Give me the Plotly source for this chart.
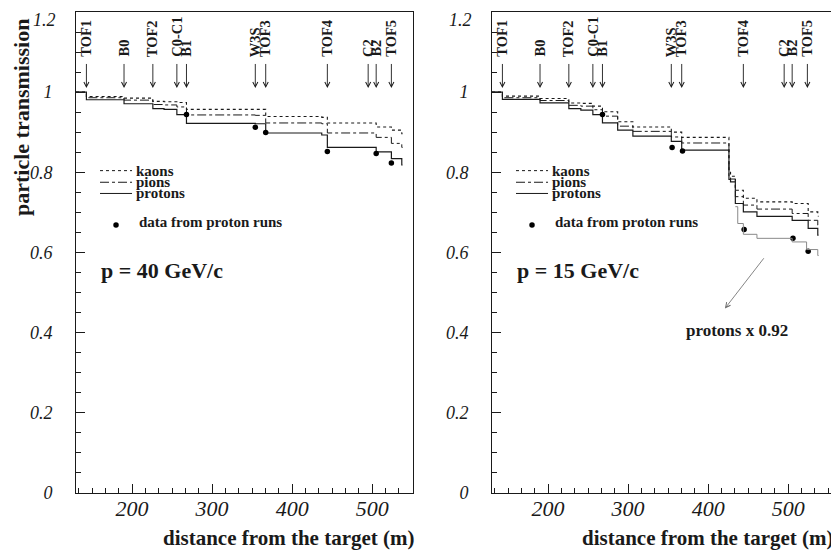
import plotly.graph_objects as go

# ---------------- data ----------------
# element positions along the beam line (m)
elem_names = ["TOF1", "B0", "TOF2", "C0-C1", "B1", "W3S", "TOF3", "TOF4", "C2", "B2", "TOF5"]
elem_pos = [143, 190, 226, 256, 268, 354, 367, 444, 495, 505, 524]

# p = 40 GeV/c  (step edges, value after each edge)
x40 = [130, 143, 190, 226, 240, 256, 268, 354, 367, 437, 444, 505, 524, 537, 538]
kaons40 = [1.0, 0.989, 0.985, 0.977, 0.976, 0.974, 0.957, 0.957, 0.939, 0.937, 0.923, 0.913, 0.905, 0.896, 0.896]
pions40 = [1.0, 0.986, 0.980, 0.969, 0.968, 0.963, 0.943, 0.942, 0.923, 0.921, 0.898, 0.887, 0.872, 0.862, 0.862]
protons40 = [1.0, 0.981, 0.971, 0.959, 0.957, 0.944, 0.922, 0.921, 0.898, 0.893, 0.862, 0.851, 0.834, 0.818, 0.818]
data40_x = [268, 354, 367, 444, 505, 524]
data40_y = [0.944, 0.912, 0.899, 0.852, 0.847, 0.823]

# p = 15 GeV/c
x15 = [130, 143, 190, 226, 241, 256, 268, 287, 306, 354, 367, 426, 428, 434, 444, 461, 505, 525, 537, 538]
kaons15 = [1.0, 0.990, 0.984, 0.973, 0.972, 0.965, 0.951, 0.926, 0.913, 0.900, 0.887, 0.800, 0.790, 0.755, 0.735, 0.726, 0.722, 0.701, 0.690, 0.690]
pions15 = [1.0, 0.986, 0.979, 0.967, 0.965, 0.956, 0.940, 0.915, 0.902, 0.888, 0.873, 0.790, 0.783, 0.739, 0.718, 0.708, 0.697, 0.680, 0.668, 0.668]
protons15 = [1.0, 0.982, 0.973, 0.959, 0.955, 0.944, 0.923, 0.905, 0.890, 0.877, 0.855, 0.782, 0.776, 0.722, 0.701, 0.690, 0.680, 0.660, 0.643, 0.643]
xscaled15 = [434, 437, 444, 461, 505, 523, 537, 538]
protons_scaled15 = [0.714, 0.672, 0.645, 0.635, 0.626, 0.607, 0.592, 0.592]
data15_x = [268, 355, 368, 445, 506, 525]
data15_y = [0.944, 0.862, 0.853, 0.657, 0.635, 0.603]

x_ticks = [200, 300, 400, 500]
y_ticks = [0, 0.2, 0.4, 0.6, 0.8, 1.0, 1.2]
y_ticktext = ["0", "0.2", "0.4", "0.6", "0.8", "1", ""]   # top label "1.2" drawn separately (kept inside page)
y_top_label = "1.2"

# ---------------- figure ----------------
PAGE_OFF = 8          # default body margin of the page
W, H = 839 - PAGE_OFF, 558 - PAGE_OFF
SERIF = "Liberation Serif"
INK = "#1a1a1a"


def px(xp):
    return (xp - PAGE_OFF) / W


def py(yp):
    return 1 - (yp - PAGE_OFF) / H


fig = go.Figure()

panels = [
    dict(xa="x", ya="y", x=x40, k=kaons40, pi=pions40, pr=protons40, dx=data40_x, dy=data40_y, label="p = 40 GeV/c"),
    dict(xa="x2", ya="y2", x=x15, k=kaons15, pi=pions15, pr=protons15, dx=data15_x, dy=data15_y, label="p = 15 GeV/c"),
]

annotations = []
shapes = []

for p in panels:
    xa, ya = p["xa"], p["ya"]
    fig.add_trace(go.Scatter(x=p["x"], y=p["k"], mode="lines", line=dict(shape="hv", color=INK, width=1.1, dash="dot"),
                             xaxis=xa, yaxis=ya, showlegend=False, name="kaons"))
    fig.add_trace(go.Scatter(x=p["x"], y=p["pi"], mode="lines", line=dict(shape="hv", color=INK, width=1.0, dash="dashdot"),
                             xaxis=xa, yaxis=ya, showlegend=False, name="pions"))
    fig.add_trace(go.Scatter(x=p["x"], y=p["pr"], mode="lines", line=dict(shape="hv", color=INK, width=1.2),
                             xaxis=xa, yaxis=ya, showlegend=False, name="protons"))
    fig.add_trace(go.Scatter(x=p["dx"], y=p["dy"], mode="markers", marker=dict(color="black", size=5.5),
                             xaxis=xa, yaxis=ya, showlegend=False, name="data from proton runs"))

    # element labels and arrows
    for name, pos in zip(elem_names, elem_pos):
        annotations.append(dict(x=pos, y=1.01, xref=xa, yref=ya, ax=pos, ay=1.074, axref=xa, ayref=ya,
                                showarrow=True, arrowhead=5, arrowsize=1.1, arrowwidth=0.9, arrowcolor=INK, text=""))
        annotations.append(dict(x=pos, y=1.083, xref=xa, yref=ya, text="<b>" + name + "</b>", showarrow=False,
                                textangle=-90, xanchor="center", yanchor="bottom",
                                font=dict(family=SERIF, size=14.5, color=INK)))

    # legend (drawn inside the frame)
    for lbl, yy, dash in [("kaons", 0.804, "dot"), ("pions", 0.775, "dashdot"), ("protons", 0.747, "solid")]:
        shapes.append(dict(type="line", xref=xa, yref=ya, x0=160, x1=200, y0=yy, y1=yy,
                           line=dict(color=INK, width=1, dash=dash)))
        annotations.append(dict(x=202, y=yy, xref=xa, yref=ya, text="<b>" + lbl + "</b>", showarrow=False,
                                xanchor="left", yanchor="middle", font=dict(family=SERIF, size=15, color=INK)))
    annotations.append(dict(x=206, y=0.676, xref=xa, yref=ya, text="<b>data from proton runs</b>", showarrow=False,
                            xanchor="left", yanchor="middle", font=dict(family=SERIF, size=15, color=INK)))
    annotations.append(dict(x=159, y=0.555, xref=xa, yref=ya, text="<b>" + p["label"] + "</b>", showarrow=False,
                            xanchor="left", yanchor="middle", font=dict(family=SERIF, size=22, color=INK)))

# top y tick label of each panel, kept just inside the page
for xr in [58, 474]:
    annotations.append(dict(x=px(xr), y=py(8.5), xref="paper", yref="paper", text=y_top_label, showarrow=False,
                            xanchor="right", yanchor="top",
                            font=dict(family=SERIF, size=18, color=INK, style="italic")))

# legend markers
for xa, ya in [("x", "y"), ("x2", "y2")]:
    fig.add_trace(go.Scatter(x=[180], y=[0.668], mode="markers", marker=dict(color="black", size=5.5),
                             xaxis=xa, yaxis=ya, showlegend=False, hoverinfo="skip"))

# scaled protons curve (right panel)
fig.add_trace(go.Scatter(x=xscaled15, y=protons_scaled15, mode="lines", line=dict(shape="hv", color="#8a8a8a", width=1.0),
                         xaxis="x2", yaxis="y2", showlegend=False, name="protons x 0.92"))
annotations.append(dict(x=421, y=0.460, xref="x2", yref="y2", ax=471, ay=0.589, axref="x2", ayref="y2",
                        showarrow=True, arrowhead=5, arrowsize=1.2, arrowwidth=0.8, arrowcolor="#666", text=""))
annotations.append(dict(x=436, y=0.406, xref="x2", yref="y2", text="<b>protons x 0.92</b>", showarrow=False,
                        xanchor="center", yanchor="middle", font=dict(family=SERIF, size=17, color=INK)))

# axis titles
annotations.append(dict(x=px(22), y=py(118), xref="paper", yref="paper", text="<b>particle transmission</b>",
                        showarrow=False, textangle=-90, xanchor="center", yanchor="middle",
                        font=dict(family=SERIF, size=22, color=INK)))
for xr in [417, 836]:
    annotations.append(dict(x=px(xr), y=py(538), xref="paper", yref="paper", text="<b>distance from the target (m)</b>",
                            showarrow=False, xanchor="right", yanchor="middle",
                            font=dict(family=SERIF, size=21, color=INK)))

ydom = [py(492.7), py(12)]
xcommon = dict(range=[130, 551], tickvals=x_ticks, ticks="inside", ticklen=9, tickcolor=INK, tickwidth=1,
               showline=True, linecolor=INK, linewidth=1, mirror=True, showgrid=False, zeroline=False,
               automargin=False, ticklabeloverflow="allow",
               tickfont=dict(family=SERIF, size=22, color=INK, style="italic"), ticklabelstandoff=-4,
               minor=dict(ticks="inside", ticklen=5, dtick=100 / 6, tick0=0, tickcolor=INK, showgrid=False))
ycommon = dict(range=[0, 1.2], tickvals=y_ticks, ticktext=y_ticktext, ticks="inside", ticklen=9, tickcolor=INK,
               tickwidth=1, showline=True, linecolor=INK, linewidth=1, mirror=True, showgrid=False, zeroline=False,
               automargin=False, ticklabeloverflow="allow",
               tickfont=dict(family=SERIF, size=18, color=INK, style="italic"), ticklabelstandoff=19,
               minor=dict(ticks="inside", ticklen=5, dtick=0.05, tick0=0, tickcolor=INK, showgrid=False))

fig.update_layout(
    template="none",
    width=W, height=H, margin=dict(l=0, r=0, t=0, b=0, autoexpand=False),
    paper_bgcolor="white", plot_bgcolor="white", showlegend=False,
    xaxis=dict(domain=[px(76), px(413)], anchor="y", **xcommon),
    yaxis=dict(domain=ydom, anchor="x", **ycommon),
    xaxis2=dict(domain=[px(492), px(837)], anchor="y2", **{**xcommon, "range": [130, 561]}),
    yaxis2=dict(domain=ydom, anchor="x2", **ycommon),
    annotations=annotations, shapes=shapes,
)

fig.write_html("out.html")
